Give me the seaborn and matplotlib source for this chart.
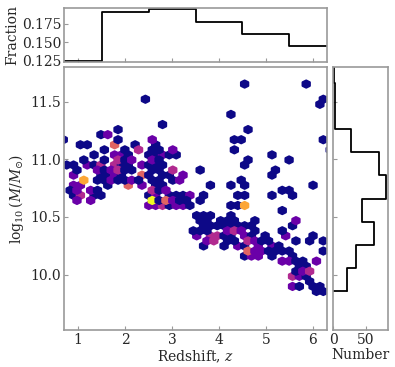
import numpy as np
import matplotlib.pyplot as plt
import seaborn as sns

# hexbin cells (one line per row of hexagons):
# redshift, log10 stellar mass and number of galaxies in the cell
z = [4.546, 5.857,
     2.434, 6.222,
     6.149,
     4.255,
     2.798,
     1.851, 4.619,
     1.487, 1.632,
     0.685, 1.851, 2.579, 4.328, 4.473, 6.222,
     1.049, 1.195, 1.778, 2.215, 2.652,
     1.559, 1.997, 2.288, 2.579, 2.725, 3.016, 4.328, 6.368,
     1.341, 1.778, 1.924, 2.069, 2.506, 2.652, 2.798, 2.944, 3.089, 5.129,
     1.122, 1.559, 1.851, 1.997, 2.142, 2.579, 2.725, 4.619, 5.493,
     0.758, 0.904, 1.195, 1.341, 1.487, 1.778, 1.924, 2.069, 2.361, 2.506, 2.652, 2.798, 4.546,
     0.977, 1.414, 1.559, 1.705, 1.851, 1.997, 2.142, 2.579, 2.725, 3.016, 3.599, 5.202,
     0.904, 1.487, 1.632, 1.778, 1.924, 2.361, 2.506, 2.798, 2.944, 3.235, 5.129,
     1.122, 1.414, 1.559, 1.705, 1.851, 1.997, 2.142, 2.288, 2.579, 2.725, 3.016, 3.162, 4.473,
     0.904, 1.049, 1.632, 2.069, 2.361, 2.652, 2.798, 3.818, 4.255, 4.546, 6.003,
     0.831, 0.977, 1.268, 1.414, 2.579, 2.725, 2.871, 5.348, 5.493,
     0.904, 1.049, 1.341, 1.487, 2.506, 2.652, 2.944, 3.089, 3.235, 3.381, 3.672, 4.401, 4.546, 5.129, 5.566,
     0.977, 1.268, 2.579, 2.725, 2.871, 3.016, 3.162, 3.308, 3.599,
     2.506, 2.652, 2.798, 2.944, 3.089, 3.235, 3.381, 4.255, 4.401, 4.546,
     5.348,
     3.526, 3.672, 3.818, 4.255,
     3.599, 3.745, 4.036, 4.182, 4.328, 4.765, 5.639,
     3.672, 3.818, 3.963, 4.109, 4.255, 4.401, 4.546, 4.692, 5.566,
     3.454, 3.599, 3.745, 4.182, 4.328, 4.473, 4.765, 5.348,
     3.526, 3.818, 3.963, 4.109, 4.255, 4.546, 4.692, 4.983, 5.420, 6.003,
     3.745, 3.891, 4.182, 4.328, 4.619, 4.765, 4.911, 5.056, 5.639, 5.930, 6.222,
     3.672, 4.109, 4.401, 4.546, 4.838, 5.129, 5.275,
     4.619, 4.765, 4.911, 5.056, 5.202, 5.348, 5.493, 6.222,
     4.546, 4.692, 4.838, 5.129, 5.566,
     5.348, 5.493, 5.639, 5.785, 6.076,
     5.712, 5.857,
     5.639, 5.785, 5.930,
     5.566, 5.712, 5.857,
     5.930,
     5.566, 5.712, 6.003, 6.149,
     6.076, 6.222]
logm = ([11.652] * 2 + [11.520] * 2 + [11.477] + [11.389] + [11.301] + [11.257] * 2
        + [11.213] * 2 + [11.170] * 6 + [11.126] * 5 + [11.082] * 8 + [11.038] * 10
        + [10.994] * 9 + [10.950] * 13 + [10.906] * 12 + [10.863] * 11 + [10.819] * 13
        + [10.775] * 11 + [10.731] * 9 + [10.687] * 15 + [10.643] * 9 + [10.599] * 10
        + [10.556] + [10.512] * 4 + [10.468] * 7 + [10.424] * 9 + [10.380] * 8
        + [10.336] * 10 + [10.292] * 11 + [10.249] * 7 + [10.205] * 8 + [10.161] * 5
        + [10.117] * 5 + [10.073] * 2 + [10.029] * 3 + [9.985] * 3 + [9.942]
        + [9.898] * 4 + [9.854] * 2)
ncell = [1, 1,
         1, 1,
         1,
         1,
         1,
         1, 1,
         1, 2,
         1, 1, 2, 1, 1, 1,
         1, 1, 4, 1, 1,
         1, 1, 3, 1, 1, 2, 1, 1,
         1, 2, 2, 1, 1, 1, 2, 1, 1, 1,
         1, 1, 3, 1, 2, 2, 1, 1, 1,
         1, 1, 2, 1, 3, 3, 1, 1, 2, 1, 1, 1, 1,
         1, 2, 1, 2, 3, 1, 1, 1, 1, 3, 1, 1,
         2, 1, 1, 2, 1, 4, 1, 1, 1, 2, 1,
         5, 1, 1, 2, 1, 1, 2, 1, 1, 1, 1, 2, 1,
         2, 2, 1, 4, 2, 1, 1, 1, 1, 1, 1,
         1, 2, 2, 1, 3, 1, 2, 1, 1,
         1, 3, 1, 1, 1, 2, 1, 1, 1, 2, 1, 1, 1, 1, 1,
         2, 2, 6, 1, 4, 2, 1, 1, 1,
         2, 2, 3, 1, 2, 2, 1, 1, 1, 5,
         1,
         1, 1, 1, 1,
         1, 1, 1, 1, 1, 1, 2,
         1, 1, 1, 1, 1, 1, 1, 1, 1,
         1, 1, 1, 2, 3, 2, 1, 1,
         2, 3, 3, 1, 1, 2, 1, 1, 2, 1,
         2, 3, 1, 1, 3, 2, 1, 1, 1, 1, 1,
         1, 1, 2, 1, 2, 2, 1,
         4, 2, 2, 1, 1, 1, 1, 1,
         1, 2, 2, 1, 1,
         2, 2, 1, 1, 2,
         1, 1,
         1, 2, 3,
         3, 2, 1,
         1,
         2, 1, 1, 1,
         1, 1]

# top panel: fraction of galaxies per redshift bin
z_edges = [0.5, 1.5, 2.5, 3.5, 4.5, 5.5, 6.5]
z_frac = [0.1254, 0.1908, 0.1942, 0.1771, 0.1613, 0.1447]

# right panel: number of galaxies per mass bin
m_edges = [9.86, 10.06, 10.26, 10.46, 10.66, 10.86, 11.06, 11.26, 11.46, 11.66, 11.86]
m_num = [21, 36, 63, 45, 81, 70, 27, 3, 3, 1]

sns.set_style('ticks')
plt.rcParams['font.family'] = 'DejaVu Serif'
plt.rcParams['mathtext.fontset'] = 'dejavuserif'
plt.rcParams['font.size'] = 10

g = sns.JointGrid(height=3.67, ratio=5, space=0.1, marginal_ticks=True)
fig = g.figure
fig.set_size_inches(3.95, 3.67)
W, H = 395, 367
g.ax_joint.set_position([64 / W, 37 / H, 263 / W, 263 / H])
g.ax_marg_x.set_position([64 / W, 305 / H, 263 / W, 54 / H])
g.ax_marg_y.set_position([333 / W, 37 / H, 55 / W, 263 / H])

ax = g.ax_joint
ax.hexbin(z, logm, C=ncell, reduce_C_function=np.sum, gridsize=(40, 21),
          extent=(0.612, 6.44, 9.810, 11.652), cmap='plasma', vmin=1, vmax=6,
          linewidths=1.8, edgecolors='face')

z_mid = (np.array(z_edges[:-1]) + np.array(z_edges[1:])) / 2
m_mid = (np.array(m_edges[:-1]) + np.array(m_edges[1:])) / 2
sns.histplot(x=z_mid, weights=z_frac, bins=z_edges, element='step', fill=False,
             color='k', linewidth=1.3, ax=g.ax_marg_x)
sns.histplot(y=m_mid, weights=m_num, bins=m_edges, element='step', fill=False,
             color='k', linewidth=1.3, ax=g.ax_marg_y)
# close the outline at the lowest bin edge, as a step histogram does
g.ax_marg_y.plot([0, m_num[0]], [m_edges[0], m_edges[0]], color='k', lw=1.3)

ax.set_xlim(0.7, 6.3)
ax.set_ylim(9.52, 11.80)
ax.set_xticks([1, 2, 3, 4, 5, 6])
ax.set_yticks([10.0, 10.5, 11.0, 11.5])
ax.set_xlabel('Redshift, $z$', labelpad=1)
ax.set_ylabel(r'$\log_{10}(M/M_{\odot})$', labelpad=3)

g.ax_marg_x.set_ylim(0.1235, 0.196)
g.ax_marg_x.set_yticks([0.125, 0.150, 0.175])
g.ax_marg_x.set_yticklabels(['0.125', '0.150', '0.175'])
g.ax_marg_x.set_ylabel('Fraction', labelpad=2)
g.ax_marg_x.set_xlabel('')
g.ax_marg_y.set_xlim(0, 84.5)
g.ax_marg_y.set_xticks([0, 50])
g.ax_marg_y.set_xlabel('Number', labelpad=1)
g.ax_marg_y.set_ylabel('')

for a in (ax, g.ax_marg_x, g.ax_marg_y):
    a.tick_params(direction='in', length=3, color='0.6', labelsize=10, pad=2)
    for s in a.spines.values():
        s.set_visible(True)
        s.set_color('0.6')
        s.set_linewidth(1.2)

fig.savefig('out.png', dpi=100)
